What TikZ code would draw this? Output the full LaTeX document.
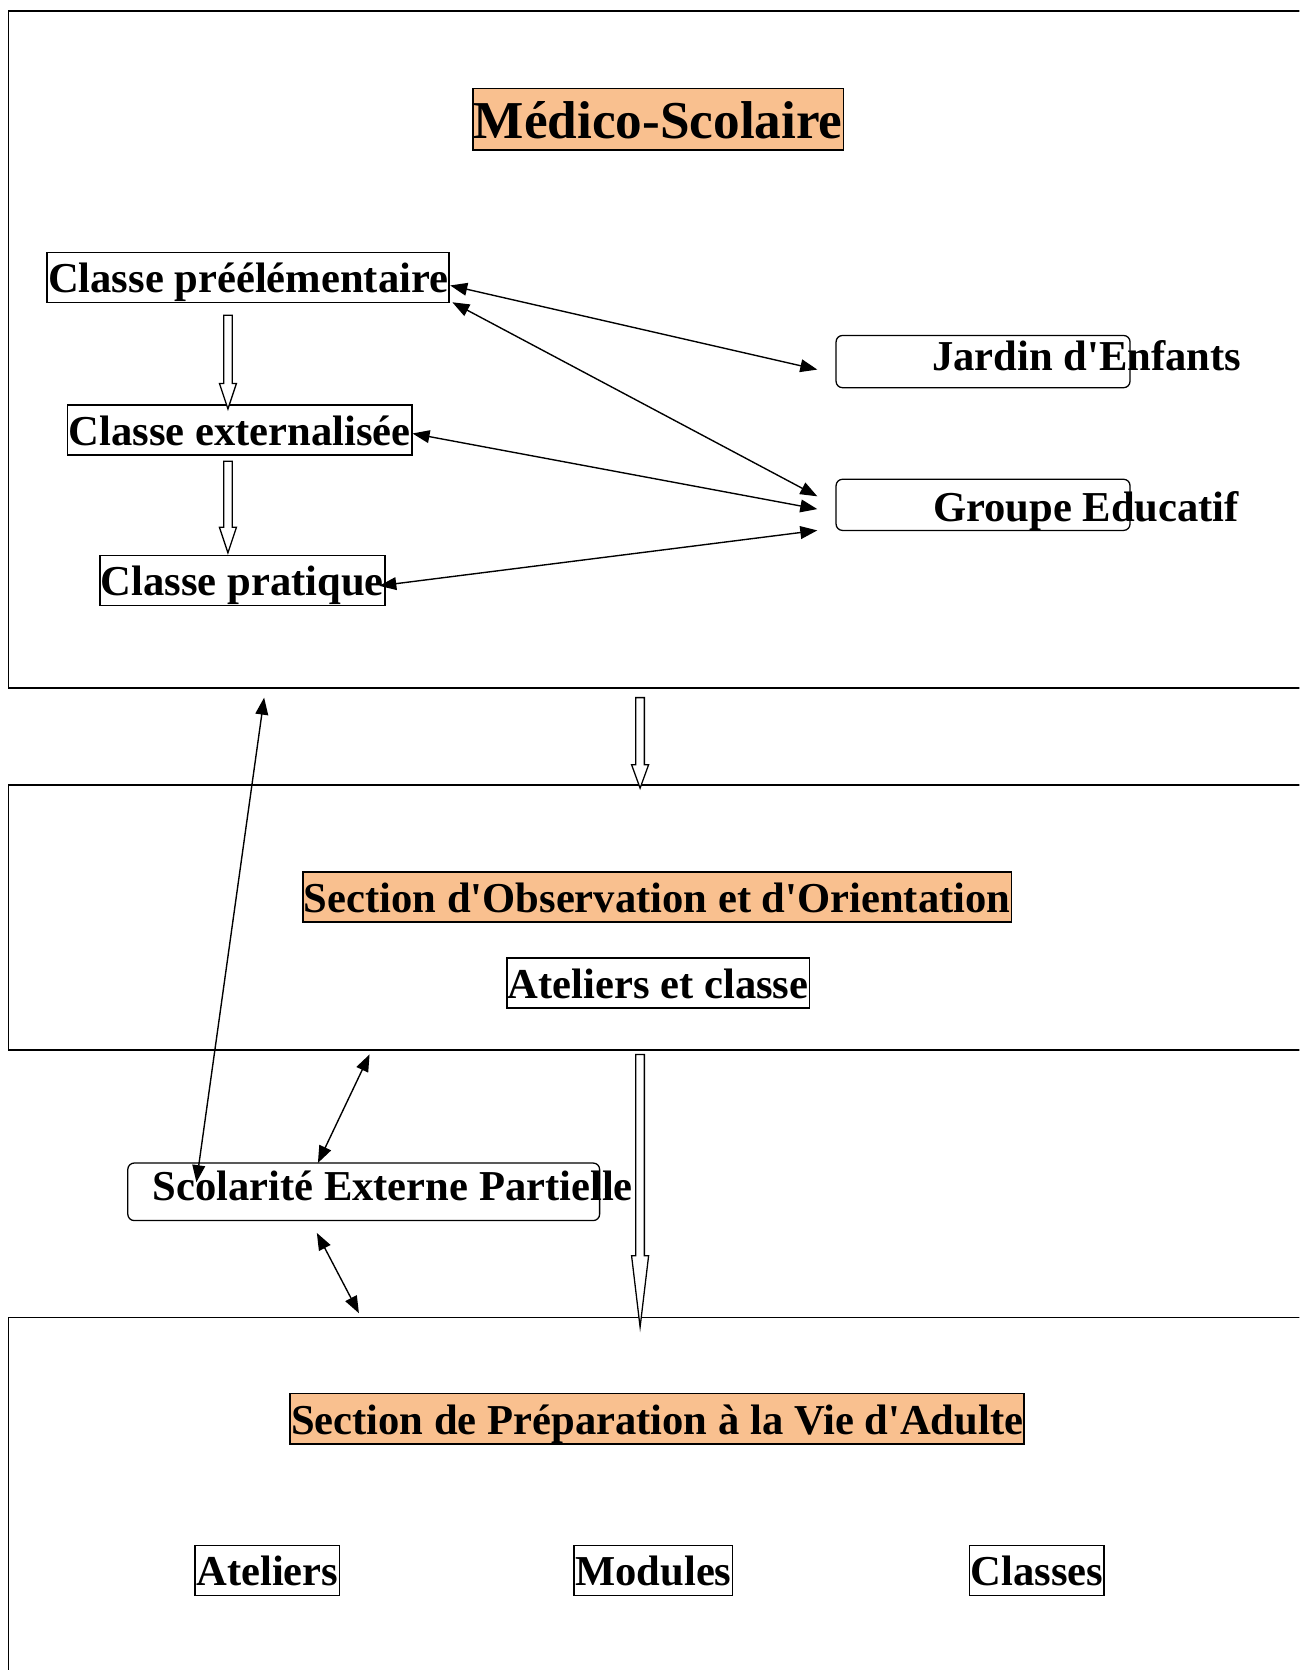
\documentclass[tikz,border=0pt]{standalone}
\usepackage{fontspec}
\setmainfont{Liberation Serif}[Ligatures=TeXOff]
\usetikzlibrary{arrows.meta}
\definecolor{peche}{RGB}{249,192,143}
% fleche creuse vers le bas : x, haut, pointe, longueur de la tete
\newcommand{\fleche}[4]{\draw[line width=1.2pt,fill=white] (#1-4,#2) -- (#1+4,#2) -- (#1+4,#3-#4) -- (#1+8,#3-#4) -- (#1,#3) -- (#1-8,#3-#4) -- (#1-4,#3-#4) -- cycle;}
\begin{document}
\begin{tikzpicture}[x=1pt,y=-1pt]
\tikzset{boite/.style={draw,line width=1.6pt,font=\fontsize{40}{44}\selectfont\bfseries,inner xsep=1pt,inner ysep=1.5pt,text height=36.5pt,text depth=7.5pt},
titre/.style={boite,fill=peche},
arrondi/.style={draw,line width=1.2pt,rounded corners=6pt},
texte/.style={font=\fontsize{40}{44}\selectfont\bfseries,inner sep=0pt,text height=34pt,text depth=10pt,anchor=west},
cadre/.style={line width=1.7pt},
lien/.style={{Triangle[length=16pt,width=12pt]}-{Triangle[length=16pt,width=12pt]},line width=1.3pt},
}
\clip (0,0) rectangle (1220,1568);

% cadres
\draw[cadre] (1240,10) -- (8,10) -- (8,646) -- (1240,646);
\draw[cadre] (1240,737) -- (8,737) -- (8,986) -- (1240,986);
\draw[cadre] (1240,1237) -- (8,1237) -- (8,1590);

\node[titre,font=\fontsize{50}{55}\selectfont\bfseries,text height=45.5pt,text depth=9.5pt] (medico) at (618,112) {Médico-Scolaire};

\node[boite] (pre) at (233,260.5) {Classe préélémentaire};
\node[boite] (ext) at (225,403.5) {Classe externalisée};
\node[boite] (prat) at (227.5,545) {Classe pratique};

\node[arrondi,minimum width=276pt,minimum height=49pt] (jardin) at (923,339.5) {};
\node[texte] (tjardin) at (875,336) {Jardin d'Enfants};
\node[arrondi,minimum width=276pt,minimum height=48pt] (groupe) at (923,474) {};
\node[texte] (tgroupe) at (876,478) {Groupe Educatif};

\fleche{214}{296}{384}{24}
\fleche{214}{433}{519}{24}

\draw[lien] ([yshift=-7.5pt]pre.east) -- ([xshift=-17pt,yshift=-7.5pt]jardin.west);
\draw[lien] ([xshift=2pt,yshift=1pt]pre.south east) -- ([xshift=-17pt,yshift=8pt]groupe.west);
\draw[lien] ([yshift=-3.5pt]ext.east) -- ([xshift=-17pt,yshift=-4pt]groupe.west);
\draw[lien] ([xshift=-6pt,yshift=-5pt]prat.east) -- ([xshift=-17pt,yshift=-24pt]groupe.west);

\fleche{601}{655}{740}{22}

\node[titre] (obs) at (617,842) {Section d'Observation et d'Orientation};
\node[boite] (atcl) at (618,923) {Ateliers et classe};

\node[arrondi,minimum width=443pt,minimum height=54pt] (sep) at (341.5,1119) {};
\node[texte] (tsep) at (143,1115) {Scolarité Externe Partielle};

\coordinate (haut) at (248,655);
\coordinate (milieu) at (347,990);
\coordinate (bas) at (337,1233);
\draw[lien] (haut) -- ([xshift=65pt,yshift=9pt]sep.west);
\draw[lien] (milieu) -- ([xshift=-43pt,yshift=-0.5pt]sep.north);
\draw[lien] ([xshift=-44pt,yshift=-11pt]sep.south) -- (bas);

\fleche{601}{990}{1246}{67}

\node[titre] (spva) at (617,1332) {Section de Préparation à la Vie d'Adulte};
\node[boite] (ateliers) at (251,1474.5) {Ateliers};
\node[boite] (modules) at (613.5,1474.5) {Modules};
\node[boite] (classes) at (973.5,1474.5) {Classes};

\end{tikzpicture}
\end{document}
